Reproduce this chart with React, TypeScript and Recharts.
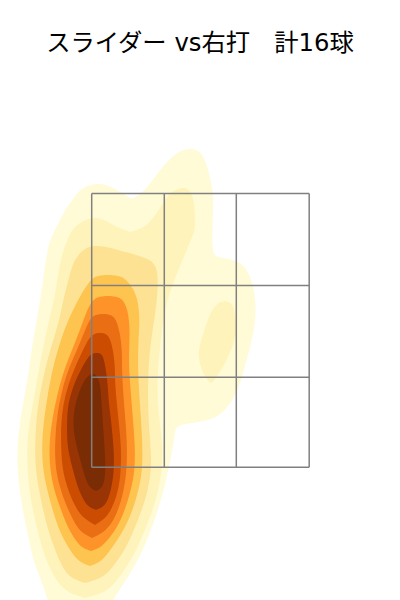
import React from "react";
import { ComposedChart, Area, XAxis, YAxis, ReferenceLine } from "recharts";

type Row = [number, number, number];

const title = "スライダー vs右打\u3000計16球";

// Density contour bands, one row per height: [y, left x, right x]
const level1LeftLobe: Row[] = [[184,98,98],[184.5,92,104],[186,87,110],[190,80,117],[195,76,125],[199,73,132]];
const level1RightLobe: Row[] = [[149,190,190],[149.5,185,195],[151,180,199],[156,173,203],[165,164,207],[177,155,210],[188,147,212],[195,139,213],[199,132,213]];
const level1Body: Row[] = [[199,73,213],[213,63,213],[240,50,212],[252,47,213],[256,47,215],[258,46,222],[260,46,235],[265,45,243],[272,44,248],[282,43,252],[295,41,255],[313,38,256],[330,35,254],[347,32,250],[370,29,244],[393,25,237],[405,23,229],[415,21,220],[419,21,212],[422,20,200],[424,20,184],[426,20,178],[430,19,175],[440,18,174],[463,17,170],[485,19,165],[507,22,159],[530,27,151],[550,31,143],[565,35,135],[580,41,126],[600,48,113]];
const level2LeftLobe: Row[] = [[218,95,95],[218.5,90,100],[220,85,105],[225,77,113],[228,74,120],[232,71,130]];
const level2RightLobe: Row[] = [[188,183,183],[188.5,179,187],[190,175,189],[194,169,192],[203,163,194],[213,157,195],[222,150,195],[228,143,195],[232,130,194]];
const level2Body: Row[] = [[232,71,194],[250,63,187],[273,58,177],[297,55,168],[320,49,163],[347,43,160],[380,37,157],[410,32,158],[437,27,162],[467,27,163],[497,30,157],[520,35,149],[545,41,139],[565,48,128],[582,57,116],[593,68,105],[598,85,85]];
const level2Island: Row[] = [[301,225,225],[302,220,229],[305,216,233],[313,210,235],[325,206,236],[340,201,235],[353,198,230],[365,200,224],[375,204,218],[381,208,214],[383,211,211]];
const level3: Row[] = [[246,95,95],[246.5,90,105],[248,86,112],[252,81,125],[258,76,148],[266,72,157],[282,68,158],[300,63,157],[322,59,154],[347,51,150],[377,43,148],[410,37,148],[440,35,150],[467,35,152],[490,39,148],[510,43,142],[530,48,134],[550,55,125],[567,62,113],[578,70,103],[583,85,85]];
const level4: Row[] = [[275,108,108],[275.5,99,117],[278,92,125],[288,85,133],[300,78,138],[320,68,140],[345,59,138],[375,51,138],[405,46,140],[435,42,142],[465,42,143],[490,47,139],[515,54,131],[535,61,121],[552,71,109],[562,79,101],[566,90,90]];
const level5: Row[] = [[296,108,108],[296.5,100,116],[299,93,123],[310,87,128],[330,80,130],[350,72,129],[370,64,129],[395,57,131],[420,52,133],[445,49,135],[470,50,135],[490,54,131],[510,61,125],[528,68,117],[541,76,107],[548,82,100],[551,91,91]];
const level6: Row[] = [[314,103,103],[314.5,96,110],[318,90,116],[333,84,120],[350,77,122],[370,68,122],[390,62,123],[415,57,125],[440,55,127],[465,55,127],[485,59,125],[505,66,120],[520,73,114],[532,80,105],[538,92,92]];
const level7: Row[] = [[333,100,100],[333.5,94,106],[338,89,110],[350,83,113],[365,76,115],[385,68,115],[405,63,117],[425,61,119],[445,61,121],[465,62,121],[480,65,120],[495,70,117],[508,76,112],[518,83,106],[525,95,95]];
const level8: Row[] = [[353,97,97],[353.5,92,101],[358,87,104],[377,77,107],[390,72,108],[405,68,109],[420,67,111],[440,67,113],[455,69,114],[470,73,114],[485,77,112],[497,82,109],[506,87,105],[510,96,96]];
const level9: Row[] = [[374,93,93],[374.5,89,96],[382,83,100],[395,78,101],[410,74,102],[425,73,103],[440,75,104],[455,79,105],[470,83,105.5],[480,86,104.5],[488,90,102],[491,96,96]];

const bands: [Row[], string][] = [
  [level1LeftLobe, "#FFFBD6"],
  [level1RightLobe, "#FFFBD6"],
  [level1Body, "#FFFBD6"],
  [level2LeftLobe, "#FEF4BB"],
  [level2RightLobe, "#FEF4BB"],
  [level2Body, "#FEF4BB"],
  [level2Island, "#FEF4BB"],
  [level3, "#FEE293"],
  [level4, "#FEC450"],
  [level5, "#FE9429"],
  [level6, "#E96E14"],
  [level7, "#CC4C02"],
  [level8, "#993404"],
  [level9, "#7A2C05"],
];

const zoneX = [91.7, 164.3, 236.3, 309.2];
const zoneY = [193.4, 285.4, 377.3, 467.3];

const toTable = (rows: Row[]) => rows.map(([y, l, r]) => ({ y, range: [l, r] }));

export default function App() {
  return (
    <div style={{ position: "absolute", left: 0, top: 0, width: 400, height: 600, background: "#fff", overflow: "hidden" }}>
      <div
        style={{
          position: "absolute",
          left: 0,
          top: 27,
          width: 400,
          textAlign: "center",
          fontFamily: "'DejaVu Sans', 'Noto Sans CJK JP', sans-serif",
          fontSize: 24.3,
          lineHeight: "32px",
          color: "#000",
          whiteSpace: "pre",
        }}
      >
        {title}
      </div>
      <ComposedChart width={400} height={600} layout="vertical" margin={{ top: 0, right: 0, bottom: 0, left: 0 }} style={{ position: "absolute", left: 0, top: 0 }}>
        <XAxis type="number" dataKey="x" domain={[0, 400]} hide allowDataOverflow />
        <YAxis type="number" dataKey="y" domain={[0, 600]} hide allowDataOverflow />
        {bands.map(([rows, color], i) => (
          <Area
            key={i}
            data={toTable(rows)}
            dataKey="range"
            type="basis"
            fill={color}
            fillOpacity={1}
            stroke="none"
            dot={false}
            activeDot={false}
            isAnimationActive={false}
          />
        ))}
        {zoneX.map((x) => (
          <ReferenceLine key={"v" + x} segment={[{ x, y: zoneY[0] }, { x, y: zoneY[3] }]} stroke="#808080" strokeWidth={1.5} />
        ))}
        {zoneY.map((y) => (
          <ReferenceLine key={"h" + y} segment={[{ x: zoneX[0], y }, { x: zoneX[3], y }]} stroke="#808080" strokeWidth={1.5} />
        ))}
      </ComposedChart>
    </div>
  );
}
